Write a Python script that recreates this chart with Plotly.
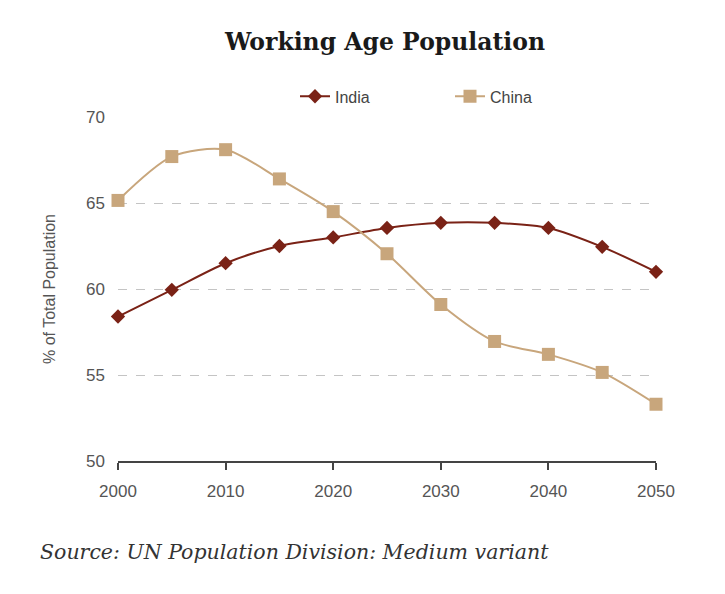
import plotly.graph_objects as go

years = [2000, 2005, 2010, 2015, 2020, 2025, 2030, 2035, 2040, 2045, 2050]
india = [58.4, 59.95, 61.5, 62.5, 63.0, 63.55, 63.85, 63.85, 63.55, 62.45, 61.0]
china = [65.15, 67.7, 68.1, 66.4, 64.5, 62.05, 59.1, 56.95, 56.2, 55.15, 53.3]
y_ticks = [50, 55, 60, 65, 70]
x_ticks = [2000, 2010, 2020, 2030, 2040, 2050]

india_color = "#7A2216"
china_color = "#C8A67C"

fig = go.Figure()
fig.add_trace(go.Scatter(
    x=years, y=india, name="India", mode="lines+markers", cliponaxis=False,
    line=dict(color=india_color, width=2, shape="spline", smoothing=0.8),
    marker=dict(symbol="diamond", size=11, color=india_color),
))
fig.add_trace(go.Scatter(
    x=years, y=china, name="China", mode="lines+markers", cliponaxis=False,
    line=dict(color=china_color, width=2, shape="spline", smoothing=0.8),
    marker=dict(symbol="square", size=13, color=china_color),
))

fig.update_layout(
    width=725, height=594,
    margin=dict(l=118, r=69, t=117, b=133),
    paper_bgcolor="white", plot_bgcolor="white",
    showlegend=True,
    title=dict(text="<b>Working Age Population</b>", x=0.531, xanchor="center",
               y=0.93, yanchor="middle",
               font=dict(family="DejaVu Serif", size=23.5, color="#1a1a1a")),
    legend=dict(orientation="h", x=(295 - 118) / 538, xanchor="left", y=1.06, yanchor="middle",
                font=dict(family="Liberation Sans", size=16, color="#444"),
                entrywidth=110, entrywidthmode="pixels",
                tracegroupgap=0, bgcolor="rgba(0,0,0,0)"),
    font=dict(family="Liberation Sans", size=17, color="#555"),
)
fig.update_xaxes(
    range=[2000, 2050], tickvals=x_ticks, ticktext=[str(t) for t in x_ticks],
    showgrid=False, showline=True, linecolor="#444", linewidth=1.5,
    ticks="outside", ticklen=7, tickcolor="#444", tickwidth=1.5,
    ticklabelstandoff=7,
    tickfont=dict(size=17, color="#555"), zeroline=False,
)
fig.update_yaxes(
    range=[50, 70], tickvals=y_ticks, ticktext=[str(t) for t in y_ticks],
    showgrid=True, gridcolor="#C4C4C4", griddash="dash", gridwidth=1,
    showline=False, zeroline=False, ticks="", ticklabelstandoff=12,
    tickfont=dict(size=17, color="#555"),
    title=dict(text="% of Total Population", standoff=26,
               font=dict(size=16, color="#555")),
)
fig.add_annotation(
    text="<i>Source: UN Population Division: Medium variant</i>",
    xref="paper", yref="paper", x=-80/538, y=-(552-461)/344,
    xanchor="left", yanchor="middle", showarrow=False,
    font=dict(family="DejaVu Serif", size=20.5, color="#333"),
)

fig.write_html("out.html")
